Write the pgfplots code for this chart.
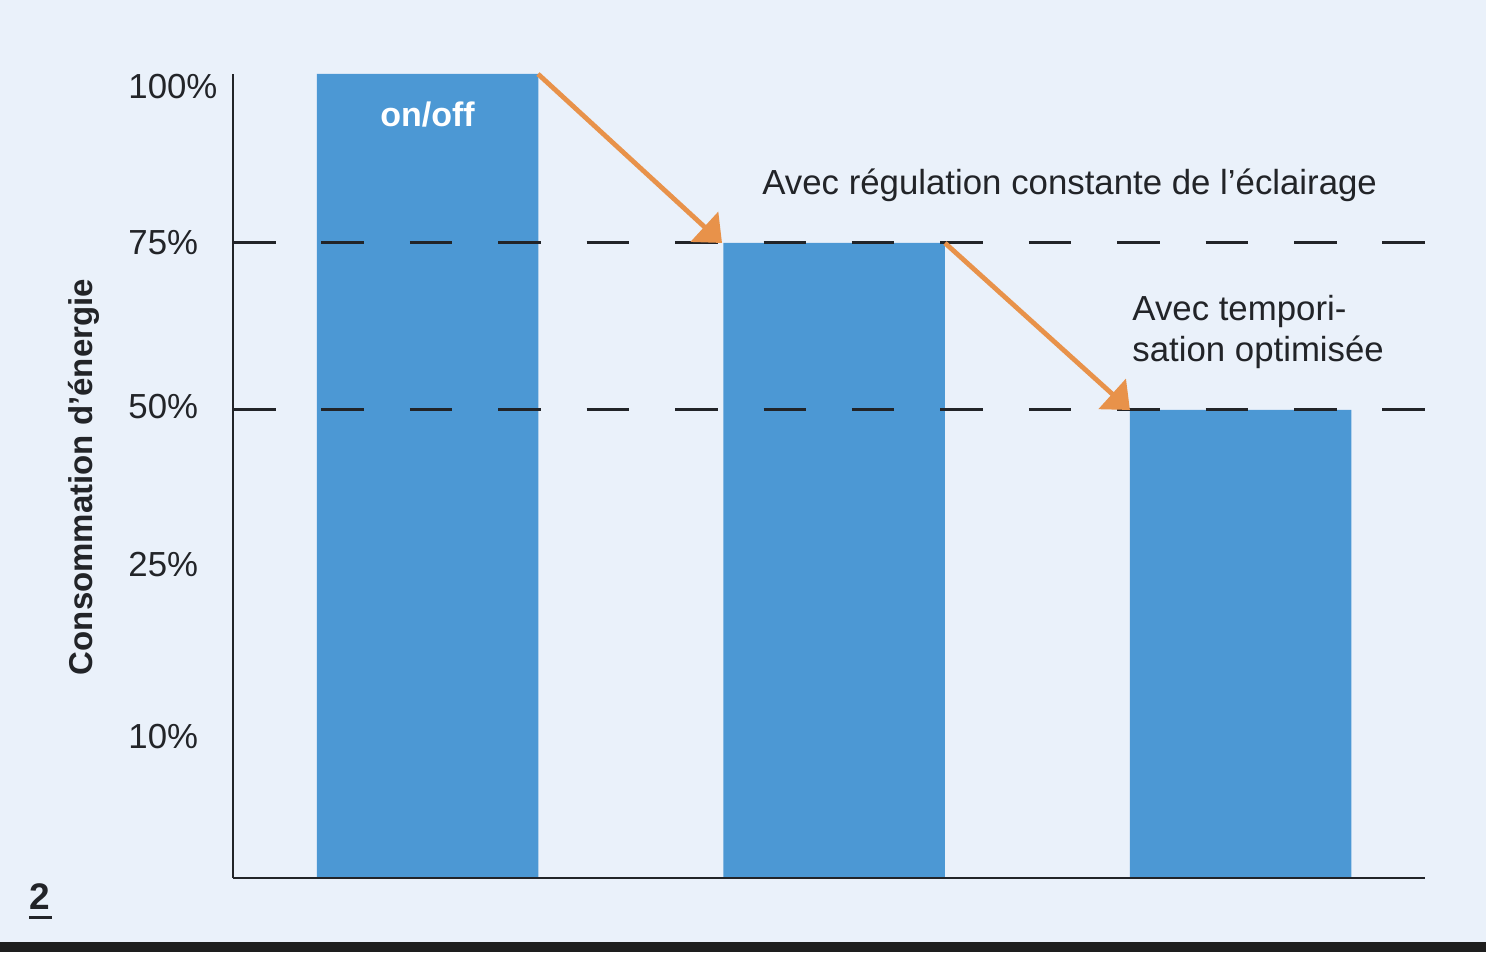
\documentclass[border=0pt]{standalone}
\usepackage{fontspec}
\setmainfont{Liberation Sans}
\usepackage{pgfplots}
\pgfplotsset{compat=1.18}
\usetikzlibrary{arrows.meta}
\definecolor{bg}{HTML}{EAF1FA}
\definecolor{barblue}{HTML}{4C98D4}
\definecolor{arrorange}{HTML}{E8924A}
\definecolor{txt}{HTML}{222428}
\definecolor{band}{HTML}{1E1E1E}
\begin{document}
\begin{tikzpicture}[x=1pt,y=1pt]
\fill[bg] (0,0) rectangle (743,476);
\fill[band] (0,0) rectangle (743,5);
\begin{axis}[
  at={(116.5pt,37pt)}, anchor=south west,
  scale only axis, width=596pt, height=402pt,
  xmin=-0.4785, xmax=2.4539, ymin=0, ymax=100,
  axis lines=left, axis line style={-, line width=0.7pt, color=txt},
  axis on top,
  ybar, bar width=110.75pt,
  xtick=\empty,
  ytick={98.38,78.98,58.58,38.93,17.54},
  yticklabels={100\%,75\%,50\%,25\%,10\%},
  major tick length=0pt,
  yticklabel style={anchor=west, xshift=-52.5pt, inner sep=0pt,
    font=\fontsize{17.4}{20}\selectfont, text=txt},
  clip=false,
]
\addplot[fill=barblue, draw=none] coordinates {(0,100) (1,78.98) (2,58.21)};
\draw[txt, line width=1.5pt, dash pattern=on 21.25pt off 22.96pt]
  (axis cs:-0.4785,78.98) -- (axis cs:2.4539,78.98);
\draw[txt, line width=1.5pt, dash pattern=on 21.25pt off 22.96pt]
  (axis cs:-0.4785,58.21) -- (axis cs:2.4539,58.21);
\draw[arrorange, line width=2.4pt, -{Triangle[length=12pt, width=20pt]}]
  (axis cs:0.2718,100) -- (axis cs:0.7245,78.98);
\draw[arrorange, line width=2.4pt, -{Triangle[length=12pt, width=20pt]}]
  (axis cs:1.273,78.98) -- (axis cs:1.728,58.21);
\end{axis}
\node[anchor=base west, text=txt, font=\fontsize{17.4}{20}\selectfont, inner sep=0pt]
  at (381,378.5) {Avec régulation constante de l’éclairage};
\node[anchor=base west, align=left, text=txt, font=\fontsize{17.4}{20.5}\selectfont, inner sep=0pt]
  at (566,295) {Avec tempori-\\sation optimisée};
\node[anchor=base, text=white, font=\bfseries\fontsize{17}{20}\selectfont, inner sep=0pt]
  at (213.75,412.5) {on/off};
\node[rotate=90, anchor=base, text=txt, font=\bfseries\fontsize{16.5}{20}\selectfont, inner sep=0pt]
  at (46,237.5) {Consommation d’énergie};
\node[anchor=base west, text=txt, font=\bfseries\fontsize{18.5}{20}\selectfont, inner sep=0pt]
  at (14.5,21.5) {2};
\draw[txt, line width=1.5pt] (14.5,17.5) -- (26,17.5);
\end{tikzpicture}
\end{document}
